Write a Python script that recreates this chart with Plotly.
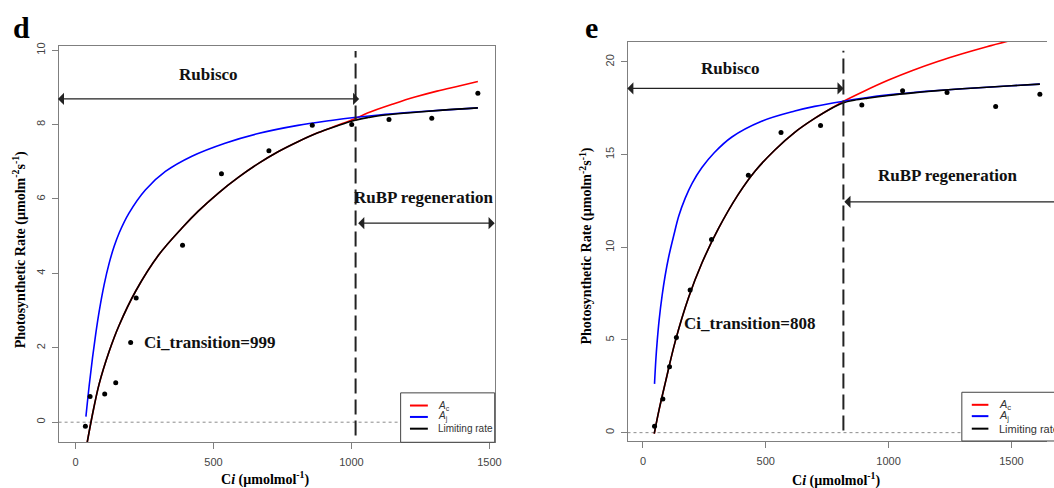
import plotly.graph_objects as go

W, H = 1054, 488

# ---------------- panel d ----------------
d_obs_ci = [36, 53, 106, 146, 200, 220, 388, 529, 701, 858, 1001, 1136, 1291, 1458]
d_obs_A = [-0.11, 0.69, 0.76, 1.06, 2.14, 3.34, 4.76, 6.68, 7.30, 7.98, 8.00, 8.14, 8.17, 8.84]

d_Ac_ci = [40, 62, 86, 122, 158, 218, 302, 386, 446, 518, 590, 662, 734, 806, 878, 950, 1010, 1058, 1154, 1230, 1310, 1390, 1458]
d_Ac_A = [-0.65, 0.22, 1.03, 1.90, 2.60, 3.52, 4.50, 5.22, 5.68, 6.16, 6.58, 6.95, 7.27, 7.54, 7.78, 7.98, 8.15, 8.31, 8.56, 8.74, 8.90, 9.04, 9.16]

d_Aj_ci = [38, 50, 62, 74, 86, 104, 122, 140, 158, 194, 254, 326, 422, 542, 662, 806, 926, 1010, 1100, 1214, 1330, 1458]
d_Aj_A = [0.15, 1.00, 1.74, 2.40, 2.98, 3.70, 4.27, 4.72, 5.08, 5.62, 6.25, 6.74, 7.15, 7.50, 7.76, 7.98, 8.11, 8.19, 8.26, 8.33, 8.39, 8.45]

d_lim_ci = [40, 62, 86, 122, 158, 218, 302, 386, 446, 518, 590, 662, 734, 806, 878, 950, 1010, 1060, 1100, 1214, 1330, 1458]
d_lim_A = [-0.65, 0.22, 1.03, 1.90, 2.60, 3.52, 4.50, 5.22, 5.68, 6.16, 6.58, 6.95, 7.27, 7.54, 7.78, 7.97, 8.11, 8.19, 8.24, 8.32, 8.39, 8.45]

d_transition = 1015
d_ticks_x = [0, 500, 1000, 1500]
d_ticks_y = [0, 2, 4, 6, 8, 10]

# ---------------- panel e ----------------
e_obs_ci = [47, 81, 108, 136, 192, 279, 429, 562, 723, 891, 1057, 1238, 1436, 1616]
e_obs_A = [0.35, 1.82, 3.55, 5.13, 7.70, 10.42, 13.89, 16.19, 16.57, 17.67, 18.44, 18.35, 17.59, 18.25]

e_Ac_ci = [46, 65, 92, 132, 186, 240, 307, 388, 456, 537, 618, 699, 780, 817, 900, 1000, 1100, 1200, 1300, 1400, 1510]
e_Ac_A = [-0.05, 1.20, 2.75, 4.95, 7.30, 9.15, 11.00, 12.85, 14.10, 15.25, 16.20, 16.95, 17.60, 17.88, 18.42, 19.02, 19.55, 20.02, 20.44, 20.82, 21.20]

e_Aj_ci = [47, 52, 58, 66, 78, 90, 105, 125, 146, 172, 200, 240, 290, 362, 483, 618, 699, 817, 914, 1000, 1100, 1200, 1300, 1400, 1500, 1616]
e_Aj_A = [2.63, 3.85, 4.95, 6.10, 7.40, 8.45, 9.50, 10.62, 11.70, 12.65, 13.45, 14.30, 15.10, 15.95, 16.80, 17.35, 17.60, 17.88, 18.08, 18.22, 18.35, 18.46, 18.55, 18.63, 18.71, 18.80]

e_lim_ci = [46, 65, 92, 132, 186, 240, 307, 388, 456, 537, 618, 699, 780, 817, 860, 914, 1000, 1100, 1200, 1300, 1400, 1500, 1616]
e_lim_A = [-0.05, 1.20, 2.75, 4.95, 7.30, 9.15, 11.00, 12.85, 14.10, 15.25, 16.20, 16.95, 17.58, 17.80, 17.93, 18.04, 18.19, 18.33, 18.45, 18.55, 18.63, 18.71, 18.80]

e_transition = 816
e_ticks_x = [0, 500, 1000, 1500]
e_ticks_y = [0, 5, 10, 15, 20]

SERIF = "Liberation Serif, Times New Roman, serif"
SANS = "Liberation Sans, Arial, sans-serif"
RED, BLUE, BLACK = "#ff0000", "#0000ff", "#000000"

fig = go.Figure()


def add_panel(xa, ya, obs_ci, obs_A, ac_ci, ac_A, aj_ci, aj_A, lim_ci, lim_A):
    kw = dict(xaxis=xa, yaxis=ya, mode="lines", line_shape="spline", showlegend=False)
    fig.add_trace(go.Scatter(x=ac_ci, y=ac_A, name="A_c", line=dict(color=RED, width=1.6), **kw))
    fig.add_trace(go.Scatter(x=aj_ci, y=aj_A, name="A_j", line=dict(color=BLUE, width=1.6), **kw))
    fig.add_trace(go.Scatter(x=lim_ci, y=lim_A, name="Limiting rate", line=dict(color=BLACK, width=1.6), **kw))
    fig.add_trace(go.Scatter(x=obs_ci, y=obs_A, xaxis=xa, yaxis=ya, mode="markers", showlegend=False,
                             name="observed", marker=dict(color=BLACK, size=5)))


add_panel("x", "y", d_obs_ci, d_obs_A, d_Ac_ci, d_Ac_A, d_Aj_ci, d_Aj_A, d_lim_ci, d_lim_A)
add_panel("x2", "y2", e_obs_ci, e_obs_A, e_Ac_ci, e_Ac_A, e_Aj_ci, e_Aj_A, e_lim_ci, e_lim_A)

# domains from pixel frame positions
dL = dict(x0=59, x1=498, top=43, bot=442)
eL = dict(x0=631.7, x1=1054, top=39.3, bot=440.7)

axis_common = dict(showgrid=False, zeroline=False, showline=True, linecolor="#7f7f7f", linewidth=1,
                   ticks="outside", ticklen=6, tickcolor="#7f7f7f", tickwidth=1,
                   tickfont=dict(family=SANS, size=11, color="#444444"))

fig.update_layout(
    width=W, height=H, margin=dict(l=0, r=0, t=0, b=0),
    paper_bgcolor="white", plot_bgcolor="white",
    xaxis=dict(domain=[dL["x0"] / W, dL["x1"] / W], range=[-61, 1519], tickvals=d_ticks_x,
               mirror=True, anchor="y", ticklabelstandoff=4, **axis_common),
    yaxis=dict(domain=[1 - dL["bot"] / H, 1 - dL["top"] / H], range=[-0.54, 10.12], tickvals=d_ticks_y,
               tickangle=-90, mirror=True, anchor="x", ticklabelstandoff=2, **axis_common),
    xaxis2=dict(domain=[eL["x0"] / W, 1.0], range=[-63, 1645], tickvals=e_ticks_x,
                mirror=True, anchor="y2", ticklabelstandoff=4, **axis_common),
    yaxis2=dict(domain=[1 - eL["bot"] / H, 1 - eL["top"] / H], range=[-0.45, 21.07], tickvals=e_ticks_y,
                tickangle=-90, mirror=False, anchor="x2", ticklabelstandoff=2, **axis_common),
)

shapes = []
anns = []

# dotted zero lines
for xr, yr in (("x", "y"), ("x2", "y2")):
    shapes.append(dict(type="line", xref=xr + " domain", x0=0, x1=1, yref=yr, y0=0, y1=0,
                       line=dict(color="#8c8c8c", width=1, dash="dot"), layer="below"))

# dashed transition lines
shapes.append(dict(type="line", xref="x", yref="y", x0=d_transition, x1=d_transition, y0=-0.36, y1=9.98,
                   line=dict(color="#222222", width=2, dash="15px,6px")))
shapes.append(dict(type="line", xref="x2", yref="y2", x0=e_transition, x1=e_transition, y0=0.12, y1=20.6,
                   line=dict(color="#222222", width=2, dash="15px,6px")))


def arrow(xr, yr, x, y, ax, ay, side):
    anns.append(dict(xref=xr, yref=yr, axref=xr, ayref=yr, x=x, y=y, ax=ax, ay=ay, text="",
                     showarrow=True, arrowhead=1, arrowsize=1.7, arrowwidth=1.2, arrowcolor="#222222",
                     arrowside=side, standoff=0, startstandoff=0))


def label(xr, yr, x, y, text, size=17, xanchor="center"):
    anns.append(dict(xref=xr, yref=yr, x=x, y=y, text="<b>%s</b>" % text, showarrow=False,
                     xanchor=xanchor, yanchor="middle",
                     font=dict(family=SERIF, size=size, color="#111111")))


# panel d annotations
arrow("x", "y", 1028, 8.69, -69, 8.69, "end+start")
arrow("x", "y", 1519, 5.35, 1019, 5.35, "end+start")
label("x", "y", 482, 9.34, "Rubisco")
label("x", "y", 1264, 6.03, "RuBP regeneration")
label("x", "y", 241, 2.14, "Ci_transition=999", xanchor="left")

# panel e annotations
arrow("x2", "y2", 817, 18.57, -70, 18.57, "end+start")
arrow("x2", "y2", 820, 12.45, 1700, 12.45, "end")
label("x2", "y2", 358, 19.66, "Rubisco")
label("x2", "y2", 1240, 13.89, "RuBP regeneration")
label("x2", "y2", 157, 5.88, "Ci_transition=808", xanchor="left")

# panel letters
for txt, px in (("d", 22), ("e", 595)):
    anns.append(dict(xref="paper", yref="paper", x=px / W, y=1 - 25 / H, text="<b>%s</b>" % txt,
                     showarrow=False, xanchor="center", yanchor="middle",
                     font=dict(family=SERIF, size=30, color="black")))

# axis titles
ytitle = "<b>Photosynthetic Rate (µmolm<sup>-2</sup>s<sup>-1</sup>)</b>"
xtitle = "<b>C<i>i</i> (µmolmol<sup>-1</sup>)</b>"
for px, py in ((20, 248), (590, 245)):
    anns.append(dict(xref="paper", yref="paper", x=px / W, y=1 - py / H, text=ytitle, textangle=-90,
                     showarrow=False, xanchor="center", yanchor="middle",
                     font=dict(family=SERIF, size=14, color="black")))
for px, py in ((267, 478), (842, 479)):
    anns.append(dict(xref="paper", yref="paper", x=px / W, y=1 - py / H, text=xtitle,
                     showarrow=False, xanchor="center", yanchor="middle",
                     font=dict(family=SERIF, size=14, color="black")))

# legends (drawn in axis-domain coordinates)
leg_items = [("<i>A</i><sub>c</sub>", RED), ("<i>A</i><sub>j</sub>", BLUE), ("Limiting rate", BLACK)]


def legend(xr, yr, bx0, bx1, by1, rows, lx0, lx1, tx, fs):
    shapes.append(dict(type="rect", xref=xr + " domain", yref=yr + " domain", x0=bx0, x1=bx1, y0=0, y1=by1,
                       line=dict(color="#444444", width=1), fillcolor="white"))
    for (txt, col), ry in zip(leg_items, rows):
        shapes.append(dict(type="line", xref=xr + " domain", yref=yr + " domain", x0=lx0, x1=lx1, y0=ry, y1=ry,
                           line=dict(color=col, width=2)))
        anns.append(dict(xref=xr + " domain", yref=yr + " domain", x=tx, y=ry, text=txt, showarrow=False,
                         xanchor="left", yanchor="middle", font=dict(family=SANS, size=fs, color="#333333")))


legend("x", "y", 0.7843, 1.0, 0.1246, [0.0927, 0.0639, 0.0343], 0.8057, 0.8467, 0.8663, 10)
legend("x2", "y2", 0.797, 1.3, 0.1221, [0.0907, 0.0623, 0.0309], 0.8207, 0.8603, 0.8816, 11)

fig.update_layout(shapes=shapes, annotations=anns)

fig.write_html("out.html", config={"displayModeBar": False},
               post_script="document.body.style.margin='0';document.body.style.overflow='hidden';")
